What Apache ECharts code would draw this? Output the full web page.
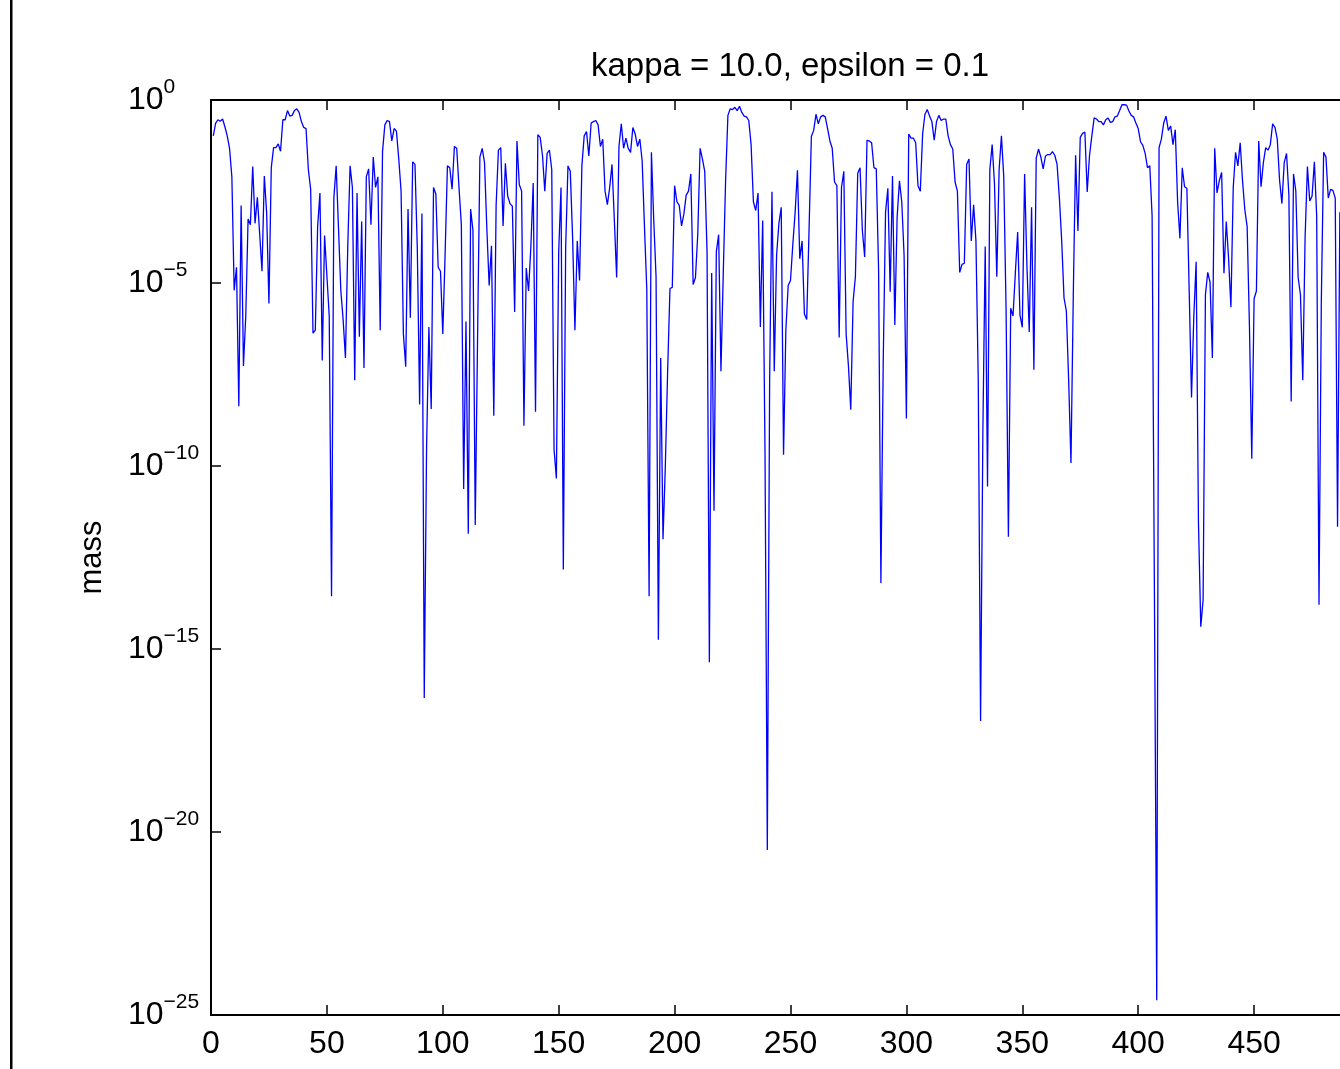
<!DOCTYPE html>
<html>
<head>
<meta charset="utf-8">
<title>kappa = 10.0, epsilon = 0.1</title>
<script src="https://cdn.jsdelivr.net/npm/echarts@6/dist/echarts.min.js"></script>
<style>
  html, body { margin: 0; padding: 0; background: #fff; }
  #main { width: 1340px; height: 1069px; }
</style>
</head>
<body>
<div id="main"></div>
<script>
// chart text
var titleText = 'kappa = 10.0, epsilon = 0.1';
var yName = 'mass';

// x ticks (index axis) and y ticks (decade exponents)
var xTicks = [0, 50, 100, 150, 200, 250, 300, 350, 400, 450, 500];
var yTicks = [0, -5, -10, -15, -20, -25];

// mass, stored as log10(mass), for index 1, 2, 3, ...
var log10Mass = [
  -0.98, -0.63, -0.54, -0.58, -0.52, -0.73, -0.98, -1.32, -2.1, -5.2,
  -4.57, -8.37, -2.88, -7.27, -5.9, -3.25, -3.41, -1.82, -3.37, -2.66,
  -3.66, -4.68, -2.08, -3.07, -5.56, -1.85, -1.3, -1.3, -1.2, -1.4,
  -0.54, -0.54, -0.29, -0.44, -0.42, -0.29, -0.24, -0.34, -0.59, -0.75,
  -0.78, -1.9, -2.44, -6.37, -6.29, -3.46, -2.54, -7.12, -3.7, -4.8,
  -5.9, -13.56, -2.68, -1.8, -3.5, -5.2, -6.0, -7.05, -4.0, -1.8,
  -2.39, -7.66, -2.54, -6.47, -3.32, -7.32, -2.1, -1.88, -3.41, -1.56,
  -2.39, -2.1, -6.29, -1.41, -0.68, -0.56, -0.59, -1.12, -0.78, -0.85,
  -1.61, -2.49, -6.39, -7.29, -2.98, -5.95, -1.69, -1.76, -4.05, -8.32,
  -3.1, -16.34, -9.5, -6.2, -8.44, -2.39, -2.57, -4.57, -4.68, -6.39,
  -4.2, -1.8, -1.85, -2.44, -1.27, -1.32, -2.4, -3.41, -10.63, -6.05,
  -11.85, -2.98, -3.56, -11.61, -6.5, -1.56, -1.32, -1.71, -3.51, -5.07,
  -3.98, -8.63, -2.88, -1.37, -1.3, -3.44, -1.73, -2.63, -2.83, -2.9,
  -5.79, -1.12, -2.31, -2.49, -8.9, -4.59, -5.22, -4.0, -2.27, -8.52,
  -0.95, -1.02, -1.51, -2.49, -1.46, -1.37, -1.9, -9.55, -10.34, -4.15,
  -2.39, -12.83, -4.05, -1.8, -1.95, -3.76, -6.29, -3.85, -4.93, -1.8,
  -0.98, -0.86, -1.53, -0.63, -0.59, -0.56, -0.68, -1.27, -1.07, -2.49,
  -2.86, -2.39, -1.76, -3.27, -4.85, -1.27, -0.65, -1.32, -1.04, -1.32,
  -1.43, -0.75, -0.93, -1.27, -1.07, -1.66, -3.46, -5.17, -13.56, -1.43,
  -3.27, -4.83, -14.75, -7.05, -12.0, -10.0, -7.4, -5.15, -5.12, -2.34,
  -2.78, -2.88, -3.44, -3.12, -2.6, -2.49, -2.02, -5.04, -4.85, -3.66,
  -1.32, -1.61, -1.95, -4.15, -15.36, -4.73, -11.22, -4.15, -3.68, -7.41,
  -4.73, -2.2, -0.42, -0.24, -0.26, -0.2, -0.29, -0.17, -0.34, -0.44,
  -0.46, -0.56, -1.22, -2.78, -3.02, -2.54, -6.2, -3.29, -9.6, -20.49,
  -7.66, -2.51, -7.41, -4.24, -3.37, -2.93, -9.69, -6.29, -5.07, -4.93,
  -3.95, -3.07, -1.92, -4.34, -3.85, -5.85, -6.0, -3.56, -1.0, -0.83,
  -0.39, -0.65, -0.46, -0.42, -0.46, -0.78, -1.12, -1.32, -2.24, -2.34,
  -6.49, -2.39, -1.95, -6.39, -7.27, -8.46, -5.51, -4.83, -2.0, -1.85,
  -3.56, -4.29, -1.1, -1.12, -1.17, -1.85, -1.88, -4.63, -13.2, -7.17,
  -3.07, -2.41, -5.24, -2.08, -6.15, -3.2, -2.21, -2.78, -4.24, -8.7,
  -0.93, -1.04, -1.04, -1.17, -2.34, -2.49, -0.93, -0.39, -0.26, -0.44,
  -0.59, -1.1, -0.59, -0.42, -0.56, -0.52, -0.52, -0.98, -1.22, -1.34,
  -2.24, -2.49, -4.71, -4.49, -4.46, -1.76, -1.61, -3.85, -2.86, -3.85,
  -7.66, -16.97, -9.0, -4.0, -10.56, -1.9, -1.22, -2.29, -4.83, -1.9,
  -0.98, -2.1, -5.71, -11.93, -5.69, -5.9, -4.73, -3.61, -5.88, -6.21,
  -2.02, -4.54, -6.34, -2.93, -7.37, -1.59, -1.34, -1.56, -1.88, -1.53,
  -1.49, -1.49, -1.41, -1.51, -1.76, -2.68, -3.85, -5.41, -5.76, -7.66,
  -9.92, -5.32, -1.51, -3.58, -1.02, -0.91, -0.88, -2.51, -1.51, -0.98,
  -0.49, -0.52, -0.59, -0.59, -0.68, -0.54, -0.49, -0.61, -0.59, -0.46,
  -0.44, -0.29, -0.13, -0.13, -0.14, -0.3, -0.42, -0.46, -0.63, -0.78,
  -1.14, -1.24, -1.46, -1.85, -1.8, -3.17, -13.5, -24.6, -1.3, -1.07,
  -0.63, -0.44, -0.83, -0.71, -1.22, -0.81, -2.78, -3.78, -1.85, -2.37,
  -2.41, -5.22, -8.13, -5.9, -4.42, -11.56, -14.39, -13.66, -5.32, -4.71,
  -4.98, -7.05, -1.32, -2.54, -2.2, -1.98, -4.73, -3.32, -4.34, -5.66,
  -2.39, -1.43, -1.8, -1.17, -2.2, -3.0, -3.46, -6.2, -9.8, -5.43,
  -5.22, -1.12, -2.37, -1.71, -1.3, -1.37, -1.22, -0.65, -0.75, -1.07,
  -2.2, -2.83, -1.71, -1.46, -2.59, -8.24, -2.02, -2.49, -4.85, -5.32,
  -7.66, -3.76, -1.82, -2.76, -2.63, -1.69, -3.17, -13.79, -5.5, -1.43,
  -1.56, -2.68, -2.44, -2.47, -2.68, -11.66, -3.07
];

var points = log10Mass.map(function (v, i) { return [i + 1, v]; });

var font = '"Liberation Sans", Arial, Helvetica, sans-serif';
var axisColor = '#000';

function decadeLabel(v) {
  var ex = v === 0 ? '0' : '\u2212' + Math.abs(v);
  return '{b|10}{s|' + ex + '}';
}

var axisLine = { onZero: false, lineStyle: { color: axisColor, width: 2 } };
var axisTick = { inside: true, length: 10, lineStyle: { color: axisColor, width: 1.5 } };

var myChart = echarts.init(document.getElementById('main'));
var option = {
  backgroundColor: '#fff',
  animation: false,
  title: {
    text: titleText,
    left: 785,
    textAlign: 'center',
    top: 45,
    textStyle: { fontFamily: font, fontSize: 33, fontWeight: 'normal', color: '#000' }
  },
  graphic: [{
    type: 'rect',
    shape: { x: 10, y: 0, width: 2.5, height: 1069 },
    style: { fill: '#000' }
  }],
  grid: { left: 211, top: 100, bottom: 54, right: -30, outerBoundsMode: 'none', containLabel: false },
  xAxis: [{
    type: 'value',
    position: 'bottom',
    min: xTicks[0],
    max: xTicks[xTicks.length - 1],
    interval: 50,
    axisLine: axisLine,
    axisTick: axisTick,
    axisLabel: { fontFamily: font, fontSize: 32, color: '#000', margin: 13 },
    splitLine: { show: false }
  }, {
    type: 'value',
    position: 'top',
    min: xTicks[0],
    max: xTicks[xTicks.length - 1],
    interval: 50,
    axisLine: axisLine,
    axisTick: axisTick,
    axisLabel: { show: false },
    splitLine: { show: false }
  }],
  yAxis: {
    type: 'value',
    min: yTicks[yTicks.length - 1],
    max: yTicks[0],
    interval: 5,
    name: yName,
    nameLocation: 'middle',
    nameRotate: 90,
    nameGap: 103,
    nameTextStyle: { fontFamily: font, fontSize: 31, color: '#000' },
    axisLine: axisLine,
    axisTick: axisTick,
    axisLabel: {
      align: 'left',
      margin: 83,
      formatter: decadeLabel,
      rich: {
        b: { fontFamily: font, fontSize: 32, color: '#000', lineHeight: 46 },
        s: { fontFamily: font, fontSize: 21, color: '#000', lineHeight: 21, verticalAlign: 'top' }
      }
    },
    splitLine: { show: false }
  },
  series: [{
    name: yName,
    type: 'line',
    data: points,
    showSymbol: false,
    symbol: 'none',
    lineStyle: { color: '#0000ff', width: 1.3 },
    clip: true
  }]
};
myChart.setOption(option);
window.onresize = function () {
  myChart.resize();
};
</script>
</body>
</html>
